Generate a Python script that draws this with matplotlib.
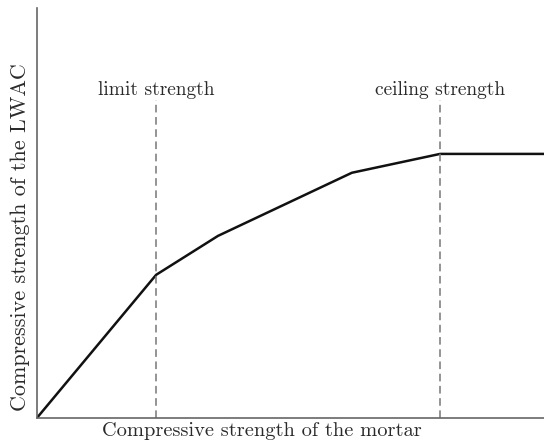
import numpy as np
import matplotlib.pyplot as plt

plt.rcParams['font.family'] = 'serif'
plt.rcParams['font.serif'] = ['cmr10']
plt.rcParams['axes.formatter.use_mathtext'] = True

# strength curve (relative units)
mortar = [0, 23.5, 35.7, 62.1, 79.5, 100]
lwac = [0, 34.9, 44.4, 59.8, 64.4, 64.4]

limit_x = 23.5
ceiling_x = 79.5
marker_top = 77.6

fig = plt.figure(figsize=(5.44, 4.45), dpi=100)
ax = fig.add_axes([0.068, 0.061, 0.932, 0.921])

ax.plot(mortar, lwac, color='#111111', linewidth=1.8, solid_joinstyle='miter')
ax.plot([limit_x, limit_x], [0, marker_top], color='#777777', linestyle=(0, (5, 3)), linewidth=1.1)
ax.plot([ceiling_x, ceiling_x], [0, marker_top], color='#777777', linestyle=(0, (5, 3)), linewidth=1.1)

ax.text(limit_x, marker_top + 0.3, 'limit strength', ha='center', va='bottom', fontsize=14, color='#2a2a2a')
ax.text(ceiling_x, marker_top + 0.3, 'ceiling strength', ha='center', va='bottom', fontsize=14, color='#2a2a2a')

ax.set_xlim(0, 100)
ax.set_ylim(0, 100)
ax.set_xticks([])
ax.set_yticks([])
ax.spines['top'].set_visible(False)
ax.spines['right'].set_visible(False)
for s in ['left', 'bottom']:
    ax.spines[s].set_color('#666666')
    ax.spines[s].set_linewidth(1.2)

fig.text(0.482, 0.0315, 'Compressive strength of the mortar', ha='center', va='center',
         fontsize=14.7, color='#2a2a2a')
fig.text(0.037, 0.467, 'Compressive strength of the LWAC', ha='center', va='center',
         rotation=90, fontsize=15.9, color='#2a2a2a')

fig.savefig('out.png', dpi=100)
